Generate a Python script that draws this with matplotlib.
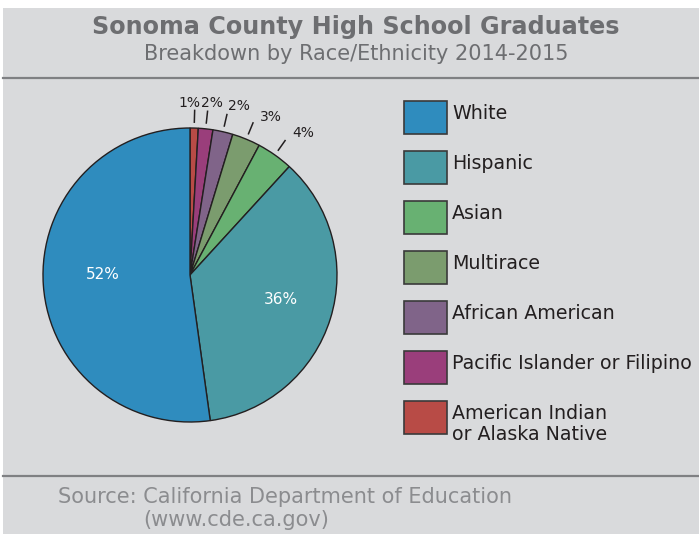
import numpy as np
import matplotlib
matplotlib.use("Agg")
import matplotlib.pyplot as plt
from matplotlib.patches import Rectangle
from matplotlib.lines import Line2D

# data (clockwise from top)
groups = ["American Indian\nor Alaska Native", "Pacific Islander or Filipino",
          "African American", "Multirace", "Asian", "Hispanic", "White"]
shares = [0.9, 1.6, 2.2, 3.1, 4.0, 36.0, 52.2]
colors = ["#b84b46", "#9a3e7b", "#806489", "#7b9c6e", "#68b172", "#4a9aa4", "#2f8cbe"]
legend_order = ["White", "Hispanic", "Asian", "Multirace", "African American",
                "Pacific Islander or Filipino", "American Indian\nor Alaska Native"]

W, H = 699, 534
plt.rcParams['font.family'] = ['DejaVu Sans']

def fx(x):
    return x / W

def fy(y):
    return 1 - y / H

fig = plt.figure(figsize=(W / 100, H / 100), dpi=100, facecolor="white")

# grey panel and rules
fig.patches.append(Rectangle((fx(3), 0), 1 - fx(3), fy(8), transform=fig.transFigure,
                             facecolor="#d9dadc", edgecolor="none", zorder=-5))
for yy in (78, 476):
    fig.lines.append(Line2D([fx(3), 1], [fy(yy), fy(yy)], transform=fig.transFigure,
                            color="#7f8083", lw=1.6))

fig.text(fx(356), fy(27), "Sonoma County High School Graduates", ha="center",
         va="center", fontsize=17.2, fontweight="bold", color="#6d6e71")
fig.text(fx(356), fy(54), "Breakdown by Race/Ethnicity 2014-2015", ha="center",
         va="center", fontsize=15, color="#6d6e71")
fig.text(fx(58), fy(497), "Source: California Department of Education", ha="left",
         va="center", fontsize=15, color="#8b8c8f")
fig.text(fx(143), fy(520), "(www.cde.ca.gov)", ha="left", va="center",
         fontsize=15, color="#8b8c8f")

# pie
R = 147
cx, cy = 190, 275
ax = fig.add_axes([fx(cx - R), fy(cy + R), 2 * R / W, 2 * R / H])
ax.set_zorder(2)
ax.set_facecolor("none")
wedges, _ = ax.pie(shares, colors=colors, startangle=90, counterclock=False,
                   wedgeprops=dict(edgecolor="#231f20", linewidth=1))
ax.set_xlim(-1, 1)
ax.set_ylim(-1, 1)
ax.set_aspect("equal")
ax.axis("off")

# label nudges (angle offset in deg, radius) per slice
nudge_ang = [1.9, -1.2, -3.2, -4.6, -3.3, 2.3, -4.0]
nudge_r = [1.17, 1.18, 1.20, 1.21, 1.24, 0.64, 0.59]
for i, w in enumerate(wedges):
    mid = np.deg2rad((w.theta1 + w.theta2) / 2)
    a = mid + np.deg2rad(nudge_ang[i])
    lab = f"{shares[i]:.0f}%"
    if shares[i] < 10:
        ax.plot([1.04 * np.cos(mid), 1.12 * np.cos(mid)],
                [1.04 * np.sin(mid), 1.12 * np.sin(mid)],
                color="#231f20", lw=1.1, clip_on=False)
        ax.text(nudge_r[i] * np.cos(a), nudge_r[i] * np.sin(a), lab, ha="center",
                va="center", fontsize=10, color="#231f20")
    else:
        ax.text(nudge_r[i] * np.cos(a), nudge_r[i] * np.sin(a), lab, ha="center",
                va="center", fontsize=11, color="white")

# legend
for k, name in enumerate(legend_order):
    top = 101 + 50 * k
    c = colors[groups.index(name)]
    fig.patches.append(Rectangle((fx(404), fy(top + 33)), 43 / W, 33 / H,
                                 transform=fig.transFigure, facecolor=c,
                                 edgecolor="#3a3a3a", lw=1.2))
    fig.text(fx(452), fy(top + 3), name, ha="left", va="top", fontsize=13.7,
             color="#231f20", linespacing=1.1)

fig.savefig("out.png", dpi=100, facecolor="white")
